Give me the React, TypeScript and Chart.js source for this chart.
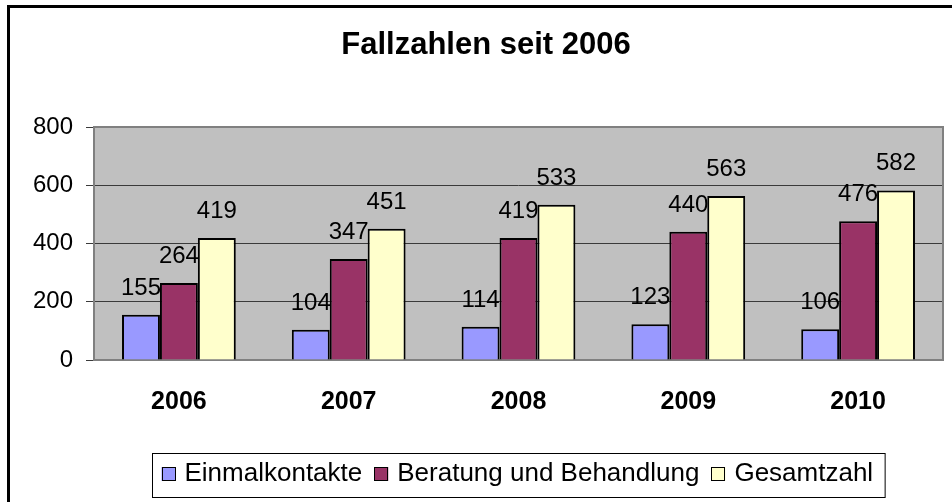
import React, { useEffect, useRef } from "react";
import { Chart, registerables } from "chart.js";

Chart.register(...registerables);

const TITLE = "Fallzahlen seit 2006";
const categories = ["2006", "2007", "2008", "2009", "2010"];
const einmalkontakte = [155, 104, 114, 123, 106];
const beratung = [264, 347, 419, 440, 476];
const gesamtzahl = [419, 451, 533, 563, 582];
const seriesNames = ["Einmalkontakte", "Beratung und Behandlung", "Gesamtzahl"];
const seriesColors = ["#9999FF", "#993366", "#FFFFCC"];
const yMin = 0;
const yMax = 800;
const yStep = 200;

const FONT = "'Liberation Sans', Arial, Helvetica, sans-serif";

const framePlugin = {
  id: "frame",
  beforeDraw(chart: any) {
    const { ctx, chartArea: a, width, height } = chart;
    ctx.save();
    ctx.fillStyle = "#FFFFFF";
    ctx.fillRect(0, 0, width, height);
    ctx.fillStyle = "#C0C0C0";
    ctx.fillRect(a.left, a.top, a.right - a.left, a.bottom - a.top);
    ctx.restore();
  },
  beforeDatasetsDraw(chart: any) {
    const { ctx, chartArea: a } = chart;
    ctx.save();
    ctx.strokeStyle = "#808080";
    ctx.lineWidth = 2;
    ctx.strokeRect(a.left, a.top, a.right - a.left, a.bottom - a.top);
    ctx.restore();
  },
  afterDraw(chart: any) {
    const { ctx, width, height } = chart;
    ctx.save();
    ctx.fillStyle = "#000000";
    ctx.fillRect(7, 5, 3, height);
    ctx.fillRect(7, 5, width, 3);
    ctx.restore();
  },
};

const valueLabelPlugin = {
  id: "valueLabels",
  afterDatasetsDraw(chart: any) {
    const { ctx } = chart;
    ctx.save();
    ctx.font = `24px ${FONT}`;
    ctx.fillStyle = "#000000";
    ctx.textAlign = "center";
    ctx.textBaseline = "alphabetic";
    chart.data.datasets.forEach((ds: any, i: number) => {
      const meta = chart.getDatasetMeta(i);
      meta.data.forEach((bar: any, j: number) => {
        ctx.fillText(String(ds.data[j]), bar.x, bar.y - 20);
      });
    });
    ctx.restore();
  },
};

const customLegendPlugin = {
  id: "customLegend",
  afterDraw(chart: any) {
    const { ctx, chartArea: a } = chart;
    ctx.save();
    ctx.font = `26px ${FONT}`;
    const sq = 14;
    const gapText = 9;
    const gapItem = 12;
    const padL = 9;
    const padR = 12;
    const items = chart.data.datasets.map((ds: any) => ({
      label: ds.label,
      color: ds.backgroundColor,
      w: ctx.measureText(ds.label).width,
    }));
    let content = 0;
    items.forEach((it: any, i: number) => {
      content += sq + gapText + it.w + (i < items.length - 1 ? gapItem : 0);
    });
    const boxW = content + padL + padR;
    const cx = (a.left + a.right) / 2;
    const boxL = Math.round(cx - boxW / 2) + 0.5;
    const boxT = 453.5;
    const boxH = 44;
    ctx.strokeStyle = "#000000";
    ctx.lineWidth = 1;
    ctx.strokeRect(boxL, boxT, boxW, boxH);
    const midY = 474;
    let x = boxL + padL;
    items.forEach((it: any) => {
      ctx.fillStyle = it.color;
      ctx.fillRect(x, midY - 7, sq, sq);
      ctx.strokeStyle = "#000000";
      ctx.strokeRect(Math.round(x) + 0.5, midY - 6.5, sq - 1, sq - 1);
      x += sq + gapText;
      ctx.fillStyle = "#000000";
      ctx.textAlign = "left";
      ctx.textBaseline = "middle";
      ctx.fillText(it.label, x, midY);
      x += it.w + gapItem;
    });
    ctx.restore();
  },
};

export default function App() {
  const ref = useRef<HTMLCanvasElement | null>(null);

  useEffect(() => {
    document.body.style.margin = "0";
    const canvas = ref.current;
    if (!canvas) return;
    const seriesData = [einmalkontakte, beratung, gesamtzahl];
    const chart = new Chart(canvas, {
      type: "bar",
      data: {
        labels: categories,
        datasets: seriesData.map((d, i) => ({
          label: seriesNames[i],
          data: d,
          backgroundColor: seriesColors[i],
          borderColor: "#000000",
          borderWidth: 2,
          categoryPercentage: 0.67,
          barPercentage: 1,
        })),
      },
      options: {
        responsive: false,
        animation: false,
        devicePixelRatio: 1,
        layout: { padding: { left: 29, right: 9, top: 0, bottom: 0 } },
        plugins: {
          legend: { display: false },
          tooltip: { enabled: false },
          title: {
            display: true,
            text: TITLE,
            color: "#000000",
            font: { family: FONT, size: 31, weight: "bold", lineHeight: 1.2 },
            padding: { top: 27, bottom: 62.8 },
          },
        },
        scales: {
          x: {
            grid: { display: false, drawTicks: false },
            border: { display: false },
            ticks: {
              color: "#000000",
              font: { family: FONT, size: 25, weight: "bold", lineHeight: 1.2 },
              padding: 27,
              maxRotation: 0,
            },
            afterFit(scale: any) {
              scale.height = 142;
            },
          },
          y: {
            min: yMin,
            max: yMax,
            ticks: {
              stepSize: yStep,
              color: "#000000",
              font: { family: FONT, size: 24 },
              padding: 13,
            },
            grid: {
              color: "#3a3a3a",
              lineWidth: 1,
              tickLength: 8,
              tickColor: "#3a3a3a",
            },
            border: { display: false },
            afterFit(scale: any) {
              scale.width = 65;
            },
          },
        },
      },
      plugins: [framePlugin, valueLabelPlugin, customLegendPlugin],
    });
    return () => chart.destroy();
  }, []);

  return (
    <div style={{ width: 952, height: 502 }}>
      <canvas ref={ref} width={952} height={502} />
    </div>
  );
}
